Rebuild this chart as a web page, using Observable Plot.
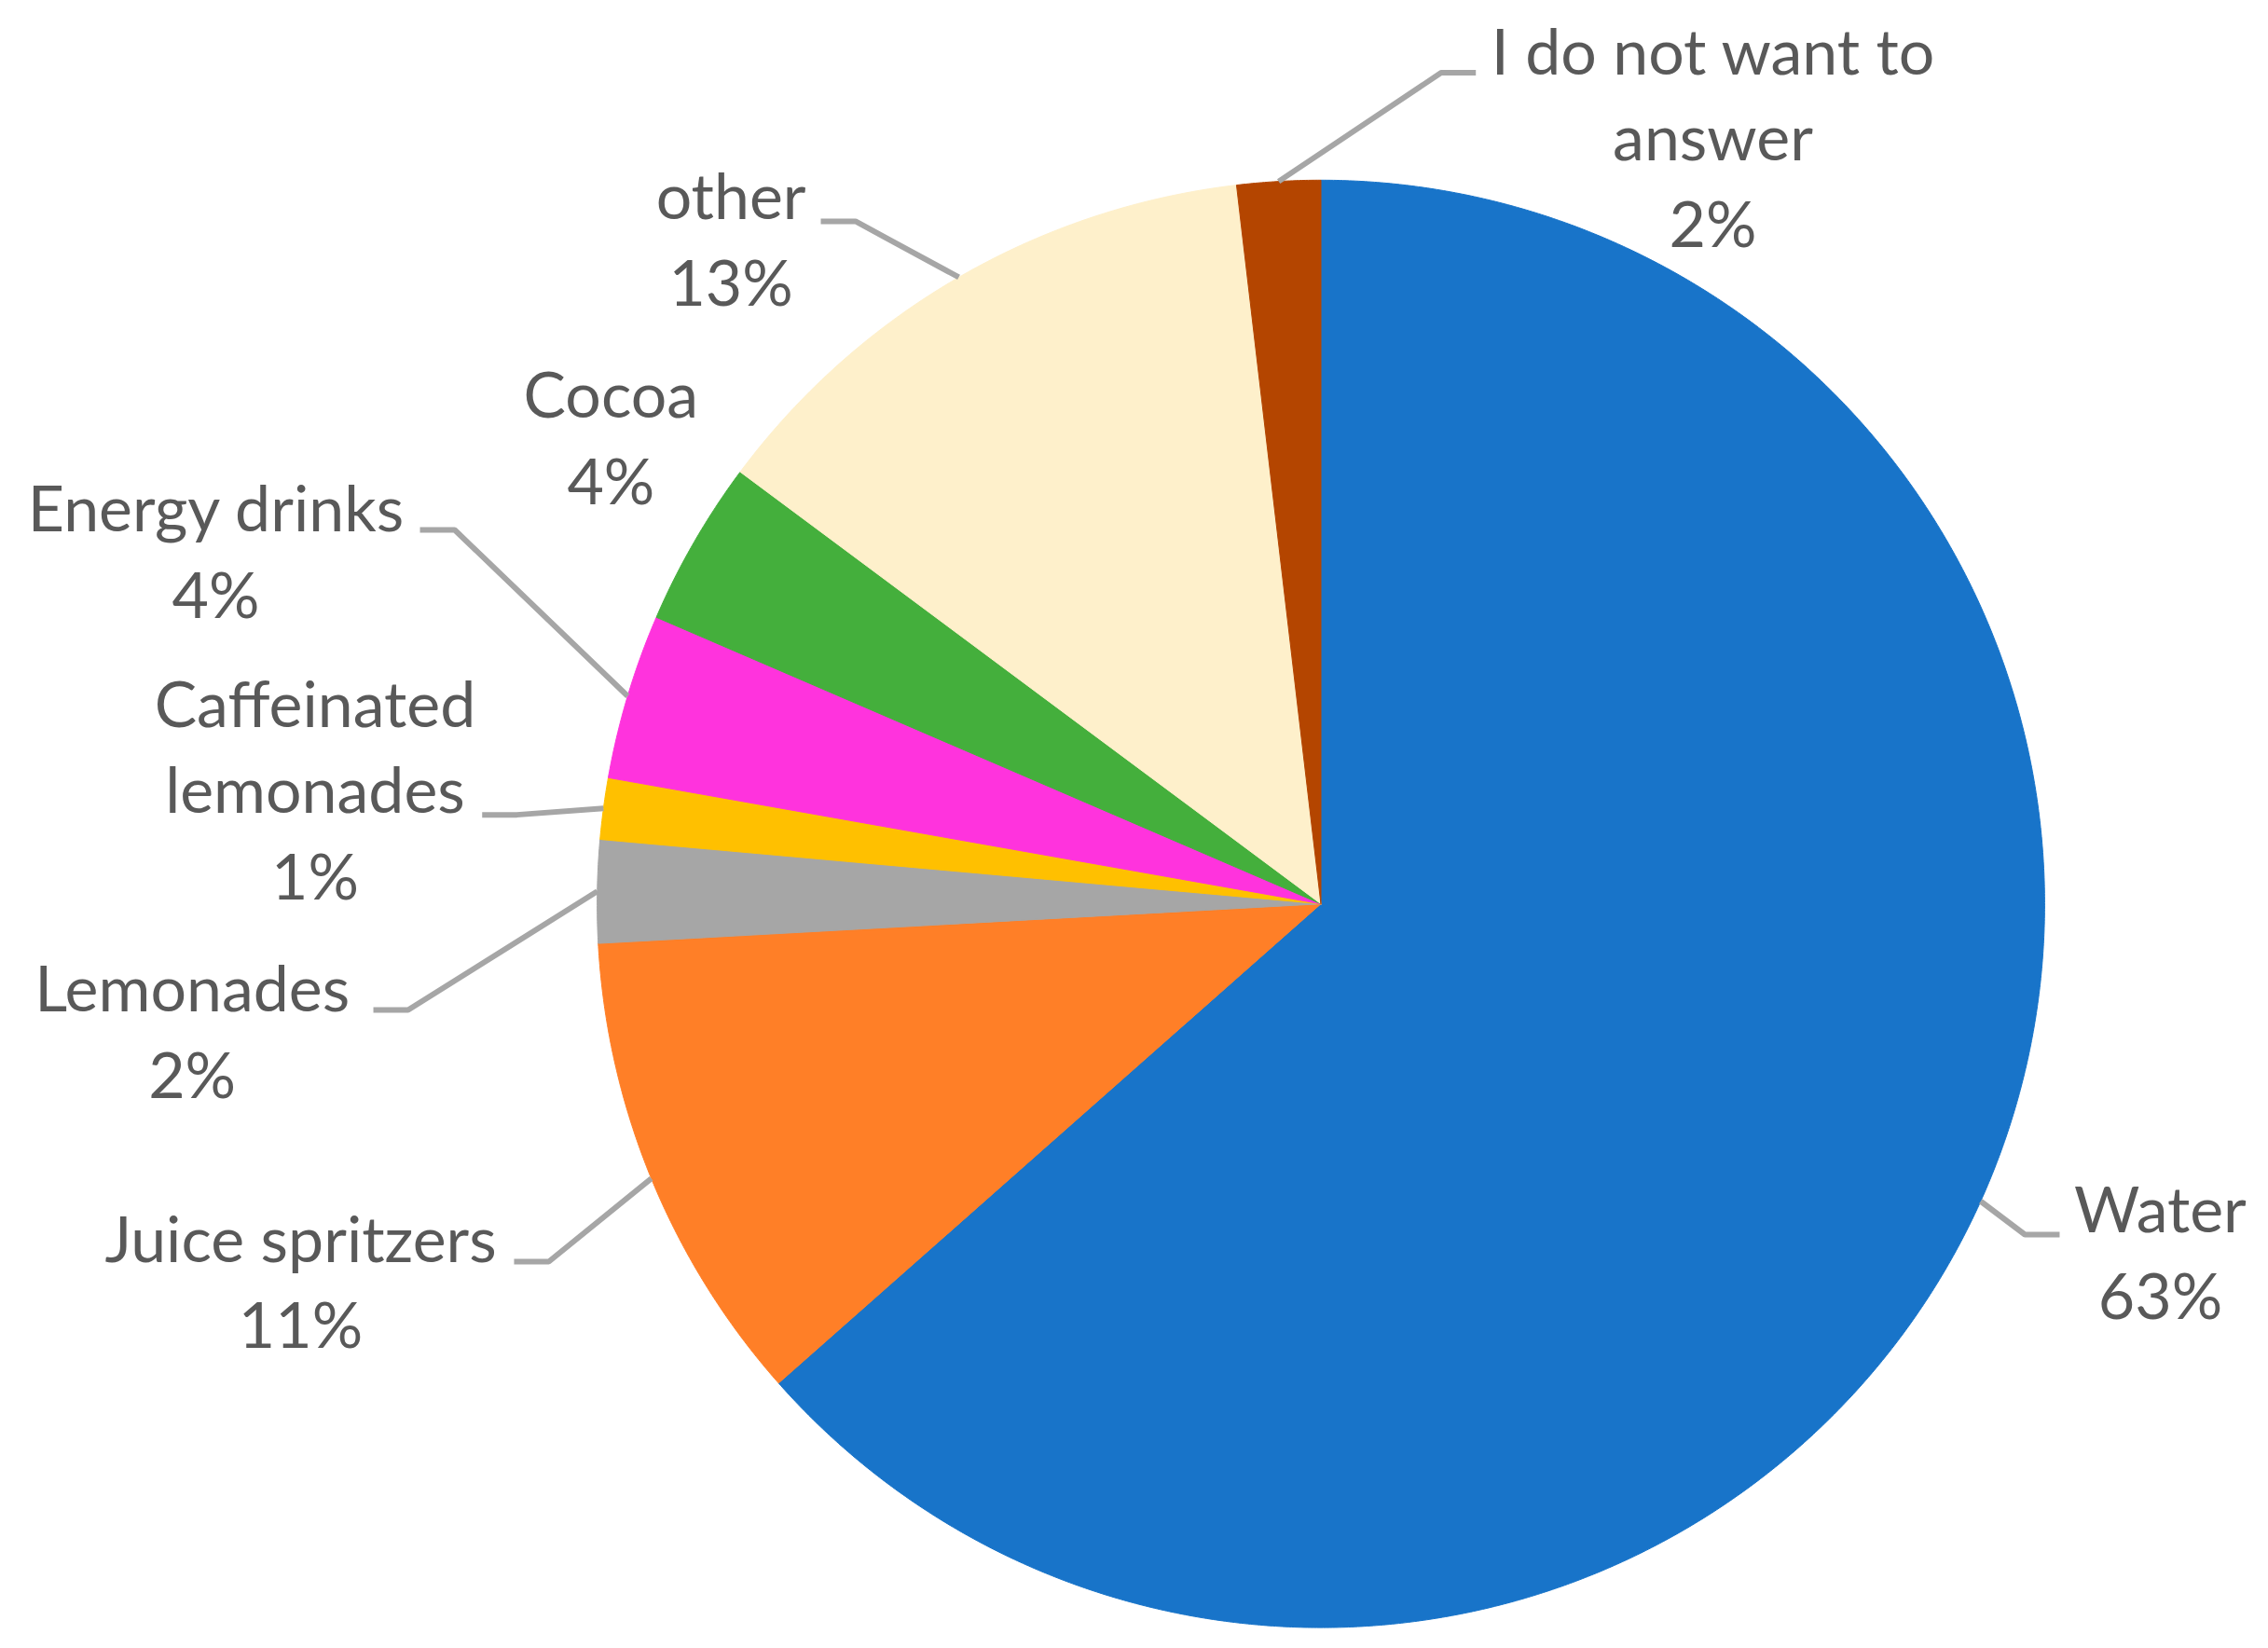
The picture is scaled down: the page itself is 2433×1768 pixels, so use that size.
<!DOCTYPE html>
<html>
<head>
<meta charset="utf-8">
<script src="https://cdn.jsdelivr.net/npm/d3@7"></script>
<script src="https://cdn.jsdelivr.net/npm/@observablehq/plot@0.6"></script>
<style>
  html, body { margin: 0; padding: 0; background: #ffffff; }
  #chart svg { display: block; }
</style>
</head>
<body>
<div id="chart"></div>
<script>
// ---- data ----
const categories = ["Water", "Juice spritzers", "Lemonades", "Caffeinated lemonades", "Energy drinks", "Cocoa", "other", "I do not want to answer"];
const shares = [63.48, 10.65, 2.29, 1.37, 3.69, 3.70, 12.96, 1.86];
const labelText = ["Water", "Juice spritzers", "Lemonades", "Caffeinated\nlemonades", "Energy drinks", "Cocoa", "other", "I do not want to\nanswer"];

// ---- styles ----
const colors = ["#1874C9", "#FF7F27", "#A6A6A6", "#FFC000", "#FF33DD", "#44AF3C", "#FEF0CB", "#B44500"];

// ---- layout (units of pie radius, relative to the pie centre, y pointing down) ----
const labelLayout = [
  {lx: 1.1598, ly: 0.4557, ex: 1.0207, ey: 0.4570, side: 1},
  {lx: -1.4097, ly: 0.4964, ex: -1.1148, ey: 0.4943, side: -1},
  {lx: -1.5596, ly: 0.1504, ex: -1.3092, ey: 0.1466, side: -1},
  {lx: -1.3898, ly: -0.2430, ex: -1.1589, ey: -0.1231, side: -1},
  {lx: -1.5269, ly: -0.5129, ex: -1.2448, ey: -0.5167, side: -1},
  {lx: -0.9810, ly: -0.6698, ex: null, ey: null, side: 0},
  {lx: -0.8152, ly: -0.9444, ex: -0.6910, ey: -0.9431, side: -1},
  {lx: 0.5416, ly: -1.1444, ex: 0.2141, ey: -1.1484, side: 1}
];

const W = 2433, H = 1768;
const CX = 1416.5, CY = 969.2, R = 776.4;
const fontSize = 68;

const total = d3.sum(shares);
const arcs = d3.pie().sort(null).value(d => d)(shares);

// slice polygons in radius units
const slicePts = [];
arcs.forEach((a, i) => {
  const name = categories[i];
  slicePts.push({name, x: 0, y: 0});
  const n = Math.max(4, Math.ceil((a.endAngle - a.startAngle) / (Math.PI / 720)));
  for (let k = 0; k <= n; k++) {
    const t = a.startAngle + (a.endAngle - a.startAngle) * k / n;
    slicePts.push({name, x: Math.sin(t), y: -Math.cos(t)});
  }
  slicePts.push({name, x: 0, y: 0});
});

// leader lines
const leaderPts = [];
arcs.forEach((a, i) => {
  const L = labelLayout[i];
  if (L.ex == null) return;
  const mid = (a.startAngle + a.endAngle) / 2;
  const name = categories[i];
  leaderPts.push({name, x: Math.sin(mid), y: -Math.cos(mid)});
  leaderPts.push({name, x: L.ex - L.side * 0.048, y: L.ey});
  leaderPts.push({name, x: L.ex, y: L.ey});
});

// labels
const labels = categories.map((c, i) => ({
  name: c,
  text: `${labelText[i]}\n${Math.round(shares[i] / total * 100)}%`,
  x: labelLayout[i].lx,
  y: labelLayout[i].ly
}));

const chart = Plot.plot({
  width: W,
  height: H,
  margin: 0,
  style: {background: "#ffffff"},
  x: {axis: null, domain: [(0 - CX) / R, (W - CX) / R]},
  y: {axis: null, domain: [(H - CY) / R, (0 - CY) / R]},
  color: {domain: categories, range: colors},
  marks: [
    Plot.line(slicePts, {x: "x", y: "y", z: "name", fill: "name", stroke: "name", strokeWidth: 1, curve: "linear"}),
    Plot.line(leaderPts, {x: "x", y: "y", z: "name", stroke: "#A6A6A6", strokeWidth: 6, strokeLinejoin: "miter", strokeLinecap: "butt"}),
    Plot.text(labels, {
      x: "x", y: "y", text: "text",
      fill: "#595959",
      fontSize: fontSize,
      fontFamily: "Lato",
      lineAnchor: "top",
      lineHeight: 92.7 / fontSize,
      dy: -0.716 * fontSize - 18.6,
      textAnchor: "middle"
    })
  ]
});
document.getElementById("chart").appendChild(chart);
</script>
</body>
</html>
